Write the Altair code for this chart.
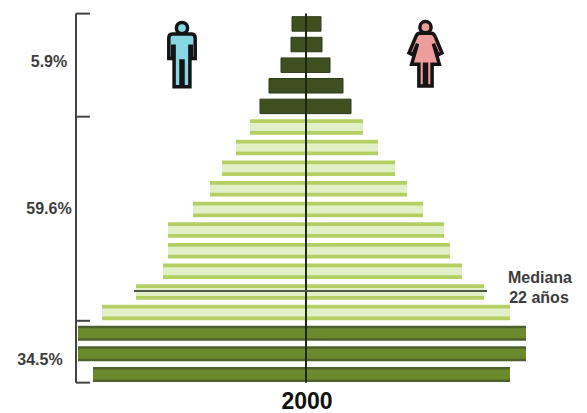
import altair as alt
import pandas as pd

ages = [87.5, 82.5, 77.5, 72.5, 67.5, 62.5, 57.5, 52.5, 47.5,
        42.5, 37.5, 32.5, 27.5, 22.5, 17.5, 12.5, 7.5, 2.5]
men = [-14, -15, -25, -37, -46, -56, -70, -84, -96,
       -113, -138, -138, -143, -170, -204, -228, -228, -213]
women = [15, 16, 24, 37, 45, 57, 72, 89, 101,
         117, 138, 144, 156, 178, 204, 220, 220, 204]
groups = ["old"] * 5 + ["work"] * 10 + ["young"] * 3

bracket_ages = [0.5, 15.5, 65, 90]
shares = ["34.5%", "59.6%", "5.9%"]
share_ages = [6, 42.5, 78.3]
share_x = [-266, -257, -257]

MAN = ("M-0.30,-0.62 L0.30,-0.62 Q0.40,-0.62 0.40,-0.48 L0.40,0.12 L0.28,0.12 L0.28,-0.25 "
       "L0.24,-0.25 L0.24,0.98 L0.03,0.98 L0.03,0.2 L-0.03,0.2 L-0.03,0.98 L-0.24,0.98 "
       "L-0.24,-0.25 L-0.28,-0.25 L-0.28,0.12 L-0.40,0.12 L-0.40,-0.48 Q-0.40,-0.62 -0.30,-0.62 Z "
       "M0.17,-0.80 A0.17,0.17 0 1 1 -0.17,-0.80 A0.17,0.17 0 1 1 0.17,-0.80 Z")
WOMAN = ("M-0.18,-0.62 L0.18,-0.62 Q0.26,-0.62 0.3,-0.5 L0.5,-0.02 L0.38,0.04 L0.24,-0.3 L0.42,0.32 "
         "L0.2,0.32 L0.2,0.98 L0.03,0.98 L0.03,0.32 L-0.03,0.32 L-0.03,0.98 L-0.2,0.98 L-0.2,0.32 "
         "L-0.42,0.32 L-0.24,-0.3 L-0.38,0.04 L-0.5,-0.02 L-0.3,-0.5 Q-0.26,-0.62 -0.18,-0.62 Z "
         "M0.17,-0.80 A0.17,0.17 0 1 1 -0.17,-0.80 A0.17,0.17 0 1 1 0.17,-0.80 Z")

df = pd.DataFrame({"age": ages, "men": men, "women": women, "group": groups})

X = alt.X("x:Q", axis=None, scale=alt.Scale(domain=[-298, 273], nice=False, zero=False))
Y = alt.Y("y:Q", axis=None, scale=alt.Scale(domain=[-5.65, 90.15], nice=False, zero=False))


def bars(group, color, size, **kw):
    d = df[df.group == group].rename(columns={"men": "x", "women": "x2", "age": "y"})
    return alt.Chart(d).mark_bar(color=color, size=size, orient="horizontal", **kw).encode(
        x=X, x2="x2:Q", y=Y)


def seg(x0, x1, y0, y1, color, width):
    d = pd.DataFrame({"x": [x0], "x2": [x1], "y": [y0], "y2": [y1]})
    return alt.Chart(d).mark_rule(color=color, strokeWidth=width).encode(
        x=X, x2="x2:Q", y=Y, y2="y2:Q")


def label(text, x, y, size=16, color="#3c3c3c", align="center"):
    d = pd.DataFrame({"x": [x], "y": [y], "t": [text]})
    return alt.Chart(d).mark_text(
        font="Liberation Sans", fontWeight="bold", fontSize=size, color=color, align=align,
        baseline="middle").encode(x=X, y=Y, text="t:N")


def figure(path, fill, x, y):
    d = pd.DataFrame({"x": [x], "y": [y]})
    return alt.Chart(d).mark_point(
        shape=path, size=4356, filled=True, fill=fill, stroke="#141414", strokeWidth=3.5,
        opacity=1).encode(x=X, y=Y)


layers = [
    bars("young", "#50602c", 15),
    bars("young", "#6b8a2e", 10),
    bars("work", "#b4d064", 15.5),
    bars("work", "#e2f0c8", 8),
    bars("old", "#3f5020", 14.5, stroke="#2f3a1c", strokeWidth=1),
    seg(-230, -230, 0.5, 90, "#444444", 2),
]
for a in bracket_ages:
    layers.append(seg(-230, -216, a, a, "#444444", 2))
layers += [
    seg(0, 0, 0.5, 90, "#1c2a10", 2),
    seg(-172, 181, 22.7, 22.7, "#4f5648", 2),
    figure(MAN, "#86d6e4", -124, 80.1),
    figure(WOMAN, "#ee9c9c", 119.5, 80.3),
    label("Mediana", 234, 25.9),
    label("22 años", 233, 21.1),
    label("2000", 1, -4.1, size=23, color="#111111"),
]
for s, a, x in zip(shares, share_ages, share_x):
    layers.append(label(s, x, a))

chart = alt.layer(*layers).properties(
    width=571, height=405, padding=0, background="white",
    autosize=alt.AutoSizeParams(type="none"),
).configure_view(stroke=None)

chart.save("out.html", embed_options={"renderer": "svg", "actions": False})
